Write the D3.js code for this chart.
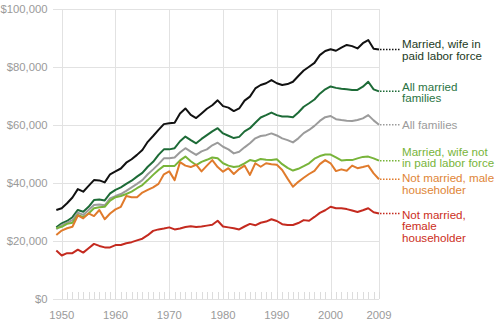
<!DOCTYPE html>
<html><head><meta charset="utf-8">
<script src="https://cdn.jsdelivr.net/npm/d3@7"></script>
<style>
html,body{margin:0;padding:0;background:#fff;}
svg{display:block;font-family:"Liberation Sans",Arial,Helvetica,sans-serif;}
</style></head>
<body><svg id="chart" width="500" height="327"></svg>
<script>
const startYear = 1949, endYear = 2009;
const years = d3.range(startYear, endYear + 1);

const wifeInLaborForce = [30700,31300,33000,35000,37900,37000,39000,41000,40900,40200,43000,44000,45000,47000,48200,49700,51400,54200,56200,58300,60300,60600,60800,64000,65700,63500,62400,64000,65600,66800,68500,66500,66000,64800,65700,68400,69800,72600,73800,74400,75500,74400,73800,74100,74900,76900,78800,80100,81400,84100,85500,86100,85600,86700,87600,87200,86400,88200,89300,86300,86000];
const allMarried = [24700,26100,26900,28200,30700,30100,31800,34100,34300,34000,36400,37600,38500,39700,40800,42200,43500,45600,47300,49700,51600,51600,52000,54400,56000,54800,53700,55200,56500,57800,58900,57100,56300,55500,55900,57800,58900,60800,62600,63400,64300,63400,62900,62900,62700,64300,66300,67500,68800,70800,72300,73300,72800,72500,72300,72100,72100,73200,74900,72300,71600];
const allFamilies = [24100,25500,26300,27200,29800,29000,30700,32400,32600,32300,34700,35500,36200,37300,38500,39700,41000,43000,44700,46500,48500,48500,48800,50600,52000,50800,49700,50900,51600,53000,53900,52500,51600,50200,50800,52300,53700,55400,56200,56500,57100,56400,55400,54800,54000,55400,57200,58300,59700,61400,62700,63100,62000,61700,61500,61400,61700,62300,63400,61600,60100];
const wifeNotInLaborForce = [24400,24900,25900,26300,29000,28200,29500,31300,31600,31800,33900,35100,35500,36200,37000,38200,39300,41000,42800,44500,45900,45900,45900,47800,49100,47500,46200,47300,48000,48800,48500,46800,46000,45500,45800,46800,47900,47500,48300,48000,47900,48200,46500,45200,44300,44900,45800,46800,48400,49300,49800,49800,48800,47800,47900,47900,48500,49000,49100,48500,47700];
const maleHouseholder = [22100,23600,24400,24900,28800,27800,29500,28600,30700,27500,29500,30900,31800,35500,35100,35100,36700,37600,38500,39700,43000,44000,41000,47200,46000,45500,46300,44000,46000,47900,45500,43900,45100,43100,44800,46000,42800,46800,45600,46800,46500,46300,44500,41500,38700,40400,41800,43100,44200,46500,47900,46800,44100,44700,44200,46000,45100,45500,46000,43300,41300];
const femaleHouseholder = [16700,15000,15800,15800,17000,16000,17500,19000,18300,17800,17800,18600,18600,19200,19600,20200,20800,22000,23500,24000,24300,24700,24000,24300,24800,25100,24800,25000,25300,25600,27000,25000,24700,24400,24000,25000,25900,25400,26300,26700,27500,26900,25800,25500,25500,26200,27200,27000,28300,29700,30600,31800,31300,31300,31000,30500,30000,30600,31300,29900,29500];

const seriesValues = [wifeInLaborForce, allMarried, allFamilies, wifeNotInLaborForce, maleHouseholder, femaleHouseholder];
const seriesLabels = [
  ["Married, wife in", "paid labor force"],
  ["All married", "families"],
  ["All families"],
  ["Married, wife not", "in paid labor force"],
  ["Not married, male", "householder"],
  ["Not married,", "female", "householder"]
];
const yTicks = [0, 20000, 40000, 60000, 80000, 100000];
const xTickYears = [1950, 1960, 1970, 1980, 1990, 2000, 2009];

// styles (kept separate from data)
const lineColors = ["#111111", "#1d6b37", "#9b9b9b", "#78b43a", "#e07b2c", "#c42a1f"];
const labelColors = ["#1c3a24", "#2a7443", "#9b9b9b", "#78b43a", "#e08536", "#cc2e22"];
const labelDy = [-5.5, -4.7, 0, -9, -1, 1];

const svg = d3.select("#chart");
const x = d3.scaleLinear().domain([1950, 2009]).range([61.7, 379]);
const y = d3.scaleLinear().domain([0, 100000]).range([299, 9]);
const fmt = v => "$" + d3.format(",")(v);

// horizontal grid + y labels
const gy = svg.append("g");
gy.selectAll("line").data(yTicks).join("line")
  .attr("x1", 53).attr("x2", 379)
  .attr("y1", d => Math.round(y(d)) + 0.5).attr("y2", d => Math.round(y(d)) + 0.5)
  .attr("stroke", "#e2e2e2").attr("stroke-width", 1);
gy.selectAll("text").data(yTicks).join("text")
  .attr("x", 47.5).attr("y", d => y(d)).attr("dy", "0.35em")
  .attr("text-anchor", "end").attr("fill", "#9a9a9a").attr("font-size", 11.3)
  .text(fmt);

// vertical grid
svg.append("g").selectAll("line").data(xTickYears).join("line")
  .attr("x1", d => Math.round(x(d)) + 0.5).attr("x2", d => Math.round(x(d)) + 0.5)
  .attr("y1", y(100000)).attr("y2", y(0))
  .attr("stroke", "#e2e2e2").attr("stroke-width", 1);

// minor year ticks
svg.append("g").selectAll("line").data(d3.range(1950, 2010)).join("line")
  .attr("x1", d => Math.round(x(d)) + 0.5).attr("x2", d => Math.round(x(d)) + 0.5)
  .attr("y1", y(0) - 7).attr("y2", y(0))
  .attr("stroke", "#dcdcdc").attr("stroke-width", 1);

// x labels
svg.append("g").selectAll("text").data(xTickYears).join("text")
  .attr("x", d => x(d)).attr("y", 315).attr("dy", "0.35em")
  .attr("text-anchor", "middle").attr("fill", "#9a9a9a").attr("font-size", 11.3)
  .text(d => d);

// lines
const line = d3.line().x((d, i) => x(years[i])).y(d => y(d));
svg.append("g").selectAll("path").data(seriesValues).join("path")
  .attr("d", line).attr("fill", "none")
  .attr("stroke", (d, i) => lineColors[i]).attr("stroke-width", 2)
  .attr("stroke-linejoin", "round");

// dotted leaders and labels
seriesValues.forEach((vals, i) => {
  const last = vals[vals.length - 1];
  const ly = y(last);
  svg.append("line")
    .attr("x1", x(endYear) + 1).attr("x2", 400)
    .attr("y1", ly).attr("y2", ly)
    .attr("stroke", lineColors[i]).attr("stroke-width", 1.5)
    .attr("stroke-dasharray", "1.5,1.5");
  const t = svg.append("text")
    .attr("fill", labelColors[i]).attr("font-size", 11.6);
  seriesLabels[i].forEach((s, j) => {
    t.append("tspan").attr("x", 402).attr("y", ly + labelDy[i] + j * 11.5)
      .attr("dy", "0.35em").text(s);
  });
});
</script></body></html>
